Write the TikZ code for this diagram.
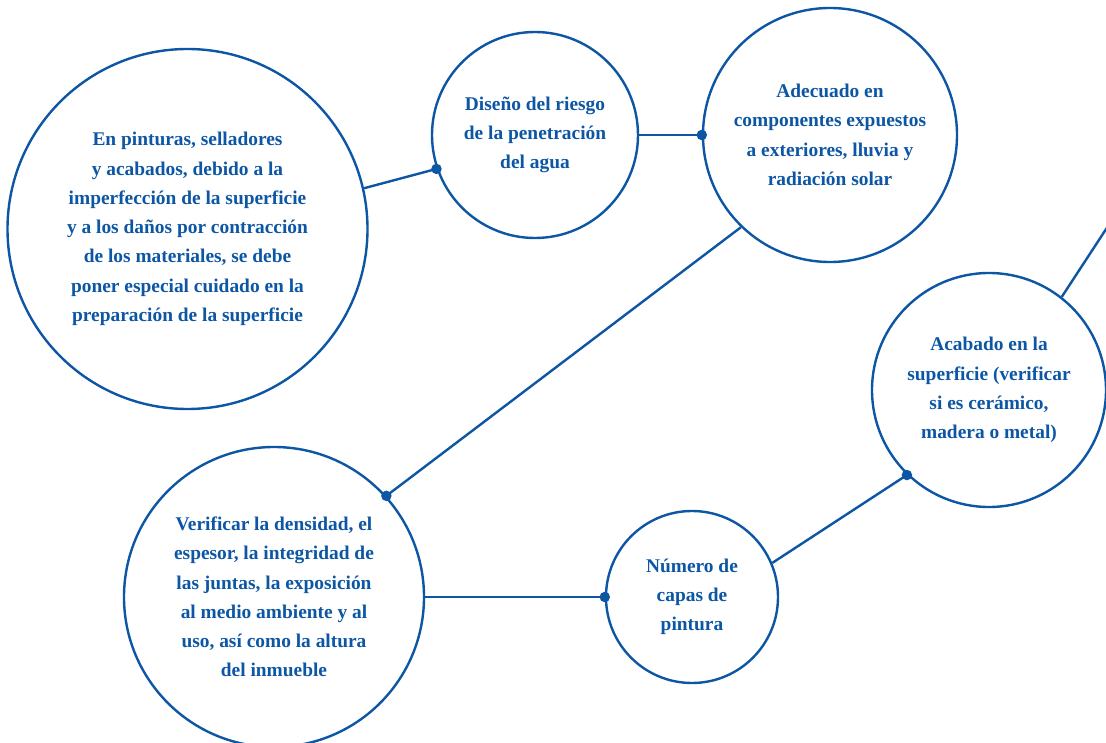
\documentclass[tikz,border=0pt]{standalone}
\usepackage{fontspec}
\setmainfont{Liberation Serif}
\definecolor{cblue}{RGB}{12,86,164}
\begin{document}
\begin{tikzpicture}[x=1pt,y=-1pt,
  circ/.style={circle,draw=cblue,line width=2.4pt,inner sep=0pt,text=cblue,align=center,
    font=\bfseries\fontsize{19.4}{29.3}\selectfont},
  conn/.style={draw=cblue,line width=2.4pt},
  dotnode/.style={circle,fill=cblue,inner sep=0pt,minimum size=10.5pt}]
\useasboundingbox (0,0) rectangle (1106,743);
\clip (0,0) rectangle (1106,743);
\node[circ,minimum size=360pt] (big) at (187.5,229) {En pinturas, selladores\\y acabados, debido a la\\imperfección de la superficie\\y a los daños por contracción\\de los materiales, se debe\\poner especial cuidado en la\\preparación de la superficie};
\node[circ,minimum size=206pt] (dis) at (535,135) {Diseño del riesgo\\de la penetración\\del agua};
\node[circ,minimum size=254pt] (ade) at (830,135) {Adecuado en\\componentes expuestos\\a exteriores, lluvia y\\radiación solar};
\node[circ,minimum size=234pt] (aca) at (989,390) {Acabado en la\\superficie (verificar\\si es cerámico,\\madera o metal)};
\node[circ,minimum size=172pt] (num) at (692,597) {Número de\\capas de\\pintura};
\node[circ,minimum size=300pt] (ver) at (274,597) {Verificar la densidad, el\\espesor, la integridad de\\las juntas, la exposición\\al medio ambiente y al\\uso, así como la altura\\del inmueble};
\coordinate (off) at (1112,220);
\draw[conn] (big.13.6) -- (dis.199) node[dotnode] (d1) {};
\draw[conn] (dis.0) -- (ade.180) node[dotnode] (d2) {};
\draw[conn] (ade.226) -- (ver.42.5) node[dotnode] (d3) {};
\draw[conn] (ver.0) -- (num.180) node[dotnode] (d4) {};
\draw[conn] (num.23.6) -- (aca.226.7) node[dotnode] (d5) {};
\draw[conn] (aca.52.7) -- (off);
\end{tikzpicture}
\end{document}
